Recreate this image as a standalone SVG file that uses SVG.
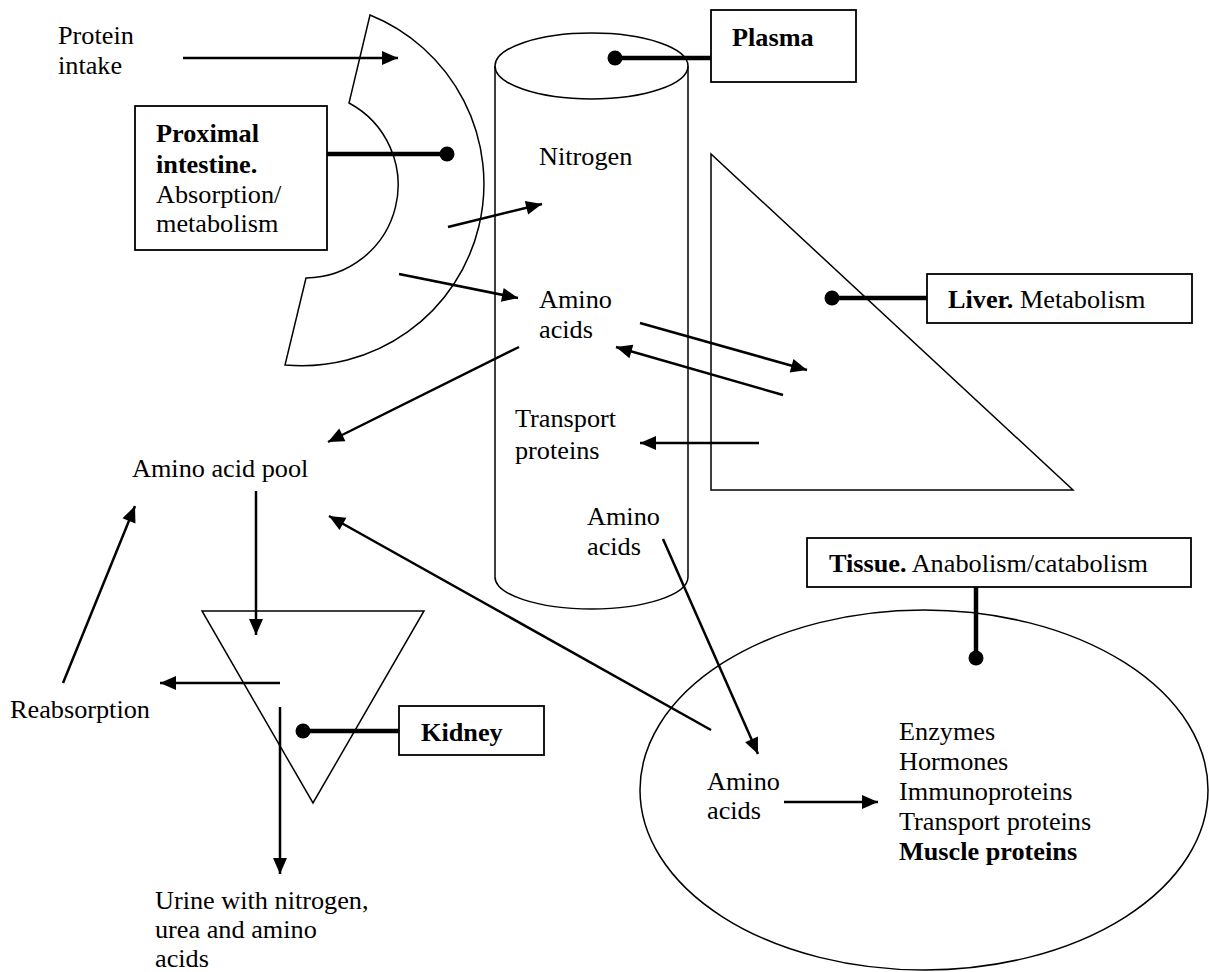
<svg xmlns="http://www.w3.org/2000/svg" width="1209" height="972" viewBox="0 0 1209 972">
<style>
text{font-family:"Liberation Serif","Times New Roman",serif;font-size:25px;fill:#000}
.b{font-weight:bold}
.shape{fill:none;stroke:#000;stroke-width:1.5}
.box{fill:none;stroke:#000;stroke-width:1.8}
.arr{stroke:#000;stroke-width:2.5;fill:none;marker-end:url(#ah)}
.con{stroke:#000;stroke-width:4.5}
.dot{fill:#000}
</style>
<defs>
<marker id="ah" markerUnits="userSpaceOnUse" markerWidth="16" markerHeight="14" refX="16" refY="7" orient="auto" overflow="visible"><path d="M0,0L16,7L0,14Z" fill="#000"/></marker>
</defs>
<rect width="1209" height="972" fill="#fff"/>

<g id="protein-intake">
<text transform="translate(58,44) scale(1.05,1)"><tspan x="0" y="0">Protein</tspan><tspan x="0" y="30">intake</tspan></text>
</g>

<g id="intestine">
<path class="shape" d="M370,15 A182,182 0 0 1 285,365 L306,278 A93,93 0 0 0 349,103 Z"/>
</g>

<g id="intestine-label">
<rect class="box" x="135" y="106" width="192" height="144"/>
<text transform="translate(156,142) scale(1.05,1)"><tspan class="b" x="0" y="0">Proximal</tspan><tspan class="b" x="0" y="31">intestine.</tspan><tspan x="0" y="61">Absorption/</tspan><tspan x="0" y="90">metabolism</tspan></text>
</g>

<g id="plasma">
<ellipse class="shape" cx="591.5" cy="66" rx="96.5" ry="33"/>
<path class="shape" d="M495,66 V577 A96.5,32 0 0 0 688,577 V66"/>
<text transform="translate(539,165) scale(1.05,1)">Nitrogen</text>
<text transform="translate(539,308) scale(1.05,1)"><tspan x="0" y="0">Amino</tspan><tspan x="0" y="30">acids</tspan></text>
<text transform="translate(515,427) scale(1.05,1)"><tspan x="0" y="0">Transport</tspan><tspan x="0" y="32">proteins</tspan></text>
<text transform="translate(587,525) scale(1.05,1)"><tspan x="0" y="0">Amino</tspan><tspan x="0" y="30">acids</tspan></text>
</g>

<g id="plasma-label">
<rect class="box" x="711" y="10" width="145" height="72"/>
<text class="b" transform="translate(732,46) scale(1.05,1)">Plasma</text>
</g>

<g id="liver">
<path class="shape" d="M711,154 L711,490 L1073,490 Z"/>
</g>

<g id="liver-label">
<rect class="box" x="927" y="274" width="265" height="49"/>
<text transform="translate(948,308) scale(1.05,1)"><tspan class="b">Liver.</tspan> Metabolism</text>
</g>

<g id="amino-acid-pool">
<text transform="translate(132,477) scale(1.05,1)">Amino acid pool</text>
</g>

<g id="kidney">
<path class="shape" d="M202,611 L424,611 L313,803 Z"/>
</g>

<g id="kidney-label">
<rect class="box" x="399" y="706" width="145" height="49"/>
<text class="b" transform="translate(421,741) scale(1.05,1)">Kidney</text>
</g>

<g id="reabsorption">
<text transform="translate(10,718) scale(1.05,1)">Reabsorption</text>
</g>

<g id="urine">
<text transform="translate(155,909) scale(1.05,1)"><tspan x="0" y="0">Urine with nitrogen,</tspan><tspan x="0" y="29">urea and amino</tspan><tspan x="0" y="58">acids</tspan></text>
</g>

<g id="tissue">
<ellipse class="shape" cx="924" cy="790" rx="284" ry="180"/>
<text transform="translate(707,790) scale(1.05,1)"><tspan x="0" y="0">Amino</tspan><tspan x="0" y="29">acids</tspan></text>
<text transform="translate(899,740) scale(1.05,1)"><tspan x="0" y="0">Enzymes</tspan><tspan x="0" y="30">Hormones</tspan><tspan x="0" y="60">Immunoproteins</tspan><tspan x="0" y="90">Transport proteins</tspan><tspan class="b" x="0" y="120">Muscle proteins</tspan></text>
</g>

<g id="tissue-label">
<rect class="box" x="807" y="538" width="384" height="49"/>
<text transform="translate(829,572) scale(1.05,1)"><tspan class="b">Tissue.</tspan> Anabolism/catabolism</text>
</g>

<g id="connectors">
<line class="arr" x1="183" y1="58" x2="398" y2="58"/>
<line class="arr" x1="448" y1="227" x2="542" y2="204"/>
<line class="arr" x1="399" y1="274" x2="518" y2="298"/>
<line class="arr" x1="640" y1="323" x2="807" y2="370"/>
<line class="arr" x1="783" y1="395" x2="616" y2="347"/>
<line class="arr" x1="519" y1="347" x2="328" y2="442"/>
<line class="arr" x1="759" y1="443" x2="640" y2="443"/>
<line class="arr" x1="256" y1="491" x2="256" y2="635"/>
<line class="arr" x1="63" y1="683" x2="135" y2="506"/>
<line class="arr" x1="280" y1="683" x2="160" y2="683"/>
<line class="arr" x1="280" y1="707" x2="280" y2="874"/>
<line class="arr" x1="663" y1="539" x2="758" y2="754"/>
<line class="arr" x1="711" y1="730" x2="329" y2="516"/>
<line class="arr" x1="784" y1="802" x2="878" y2="802"/>

<line class="con" x1="615" y1="58" x2="711" y2="58"/>
<circle class="dot" cx="615" cy="58" r="7.5"/>
<line class="con" x1="327" y1="154" x2="447" y2="154"/>
<circle class="dot" cx="447" cy="154" r="7.5"/>
<line class="con" x1="832" y1="298" x2="927" y2="298"/>
<circle class="dot" cx="832" cy="298" r="7.5"/>
<line class="con" x1="303" y1="731" x2="399" y2="731"/>
<circle class="dot" cx="303" cy="731" r="7.5"/>
<line class="con" x1="976" y1="587" x2="976" y2="658"/>
<circle class="dot" cx="976" cy="658" r="7.5"/>
</g>
</svg>
